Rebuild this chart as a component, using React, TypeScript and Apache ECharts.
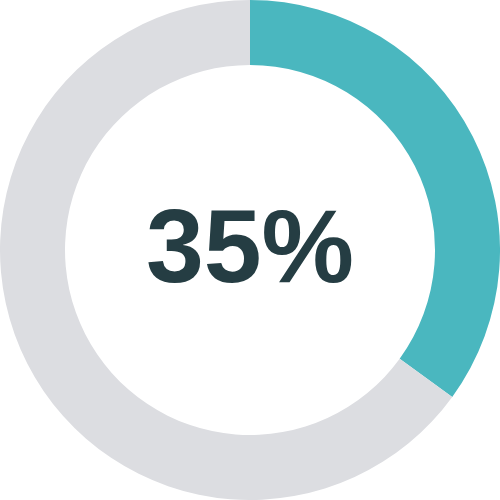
import React, { useEffect, useRef } from 'react';
import * as echarts from 'echarts';

// 进度环数据
const labels = ['完成', '剩余'];
const values = [35, 65];
const colors = ['#4AB7BF', '#DCDDE1'];
const centerText = '35%';

const App: React.FC = () => {
  const chartRef = useRef<HTMLDivElement>(null);

  useEffect(() => {
    if (!chartRef.current) return;
    const chart = echarts.init(chartRef.current, undefined, { renderer: 'svg' });

    const option: echarts.EChartsOption = {
      animation: false,
      graphic: [
        {
          type: 'text',
          x: 250,
          y: 246,
          style: {
            text: centerText,
            fontFamily: 'Liberation Sans, Arial, sans-serif',
            fontSize: 104,
            fontWeight: 'bold',
            fill: '#253D43',
            align: 'center',
            verticalAlign: 'middle'
          }
        }
      ],
      series: [
        {
          type: 'pie',
          radius: ['74%', '100%'],
          center: ['50%', '50%'],
          startAngle: 90,
          clockwise: true,
          label: { show: false },
          labelLine: { show: false },
          emphasis: { disabled: true },
          itemStyle: { borderWidth: 0 },
          data: labels.map((name, i) => ({
            name,
            value: values[i],
            itemStyle: { color: colors[i] }
          }))
        }
      ]
    };

    chart.setOption(option);
    return () => chart.dispose();
  }, []);

  return (
    <div
      ref={chartRef}
      style={{ position: 'fixed', left: 0, top: 0, width: 500, height: 500, background: '#fff' }}
    />
  );
};

export default App;
